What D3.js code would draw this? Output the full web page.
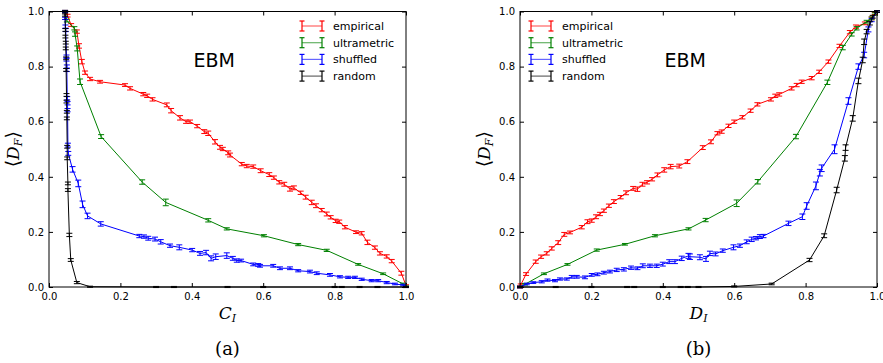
<!DOCTYPE html>
<meta charset="utf-8">
<head>
<style>
  body { margin: 0; background: #fff; }
  .tick text { font: 10px "DejaVu Sans", sans-serif; fill: #000; }
  .legend text { font: 11px "DejaVu Sans", sans-serif; }
  .title { font: 19px "DejaVu Sans", sans-serif; }
  .lab { font: italic 17px "DejaVu Serif", serif; }
  .cap { font: 18px "DejaVu Serif", serif; }
</style>
</head>
<body>
<script src="https://cdnjs.cloudflare.com/ajax/libs/d3/7.8.5/d3.min.js"></script>
<script>

const seriesNames = ["empirical", "ultrametric", "shuffled", "random"];
const seriesColors = ["#ff0000", "#008000", "#0000ff", "#000000"];
const xTicks = [0, 0.2, 0.4, 0.6, 0.8, 1.0];
const yTicks = [0, 0.2, 0.4, 0.6, 0.8, 1.0];

// panel (a): x = C_I, points [x, y, err]
const aEmpirical = [[0.045,1.0,0.004],[0.052,0.985,0.005],[0.062,0.951,0.005],[0.078,0.927,0.006],[0.084,0.875,0.008],[0.092,0.818,0.008],
  [0.101,0.778,0.006],[0.115,0.755,0.006],[0.143,0.745,0.005],[0.213,0.733,0.005],[0.227,0.721,0.006],[0.264,0.700,0.006],[0.275,0.694,0.006],
  [0.290,0.681,0.006],[0.330,0.661,0.007],[0.342,0.640,0.008],[0.367,0.614,0.008],[0.384,0.600,0.006],[0.395,0.600,0.006],[0.415,0.584,0.006],
  [0.435,0.564,0.007],[0.446,0.558,0.008],[0.465,0.527,0.008],[0.479,0.507,0.007],[0.487,0.501,0.006],[0.502,0.487,0.007],[0.507,0.479,0.007],
  [0.540,0.446,0.006],[0.554,0.439,0.006],[0.572,0.437,0.006],[0.593,0.422,0.007],[0.617,0.408,0.007],[0.630,0.397,0.006],[0.645,0.380,0.006],
  [0.659,0.373,0.007],[0.675,0.356,0.008],[0.686,0.360,0.007],[0.705,0.342,0.006],[0.719,0.326,0.007],[0.736,0.307,0.008],[0.748,0.295,0.007],
  [0.764,0.279,0.006],[0.778,0.265,0.007],[0.789,0.253,0.006],[0.803,0.240,0.006],[0.813,0.237,0.006],[0.829,0.217,0.006],[0.860,0.199,0.005],
  [0.876,0.195,0.006],[0.892,0.162,0.008],[0.913,0.143,0.006],[0.927,0.122,0.006],[0.946,0.111,0.006],[0.960,0.094,0.006],[0.987,0.050,0.007],[1.0,0.005,0.003]];
const aUltrametric = [[0.045,1.0,0.004],[0.050,0.967,0.005],[0.071,0.939,0.006],[0.073,0.918,0.008],[0.079,0.866,0.009],[0.087,0.745,0.010],
  [0.146,0.546,0.007],[0.261,0.381,0.008],[0.327,0.307,0.012],[0.446,0.242,0.006],[0.498,0.211,0.004],[0.602,0.186,0.004],[0.698,0.154,0.004],
  [0.778,0.133,0.004],[0.866,0.082,0.003],[0.936,0.048,0.003],[0.992,0.011,0.003],[1.0,0.002,0.002]];
const aShuffled = [[0.045,1.0,0.004],[0.045,0.975,0.004],[0.046,0.945,0.006],[0.047,0.933,0.006],[0.049,0.836,0.006],[0.049,0.826,0.006],
  [0.050,0.800,0.006],[0.050,0.788,0.006],[0.051,0.685,0.006],[0.052,0.667,0.006],[0.052,0.642,0.006],[0.053,0.515,0.007],[0.054,0.485,0.007],
  [0.066,0.427,0.010],[0.082,0.376,0.012],[0.094,0.300,0.012],[0.108,0.258,0.010],[0.145,0.229,0.008],[0.253,0.185,0.006],[0.266,0.183,0.006],
  [0.278,0.177,0.007],[0.297,0.174,0.007],[0.313,0.164,0.008],[0.339,0.150,0.006],[0.365,0.144,0.009],[0.401,0.134,0.006],[0.423,0.122,0.007],
  [0.440,0.125,0.008],[0.454,0.104,0.009],[0.467,0.110,0.010],[0.498,0.114,0.010],[0.515,0.104,0.007],[0.526,0.096,0.006],[0.538,0.096,0.005],
  [0.572,0.082,0.005],[0.586,0.080,0.005],[0.591,0.077,0.005],[0.628,0.077,0.005],[0.647,0.068,0.005],[0.675,0.068,0.005],[0.698,0.059,0.004],
  [0.731,0.056,0.005],[0.750,0.050,0.005],[0.787,0.044,0.005],[0.815,0.037,0.004],[0.838,0.035,0.004],[0.857,0.035,0.004],[0.876,0.028,0.004],
  [0.904,0.023,0.004],[0.922,0.023,0.004],[0.946,0.016,0.004],[0.969,0.011,0.003],[0.992,0.007,0.003],[1.0,0.0,0.002]];
const aRandom = [[0.045,0.999,0.004],[0.045,0.987,0.004],[0.046,0.933,0.005],[0.046,0.909,0.005],[0.047,0.887,0.005],[0.047,0.866,0.005],
  [0.048,0.830,0.005],[0.048,0.788,0.005],[0.049,0.697,0.005],[0.049,0.673,0.005],[0.050,0.636,0.005],[0.050,0.612,0.005],[0.051,0.509,0.005],
  [0.051,0.467,0.005],[0.053,0.376,0.005],[0.053,0.352,0.005],[0.057,0.189,0.006],[0.061,0.098,0.005],[0.078,0.016,0.004],[0.115,0.001,0.002],
  [0.30,0.0,0.002],[0.35,0.0,0.002],[0.50,0.0,0.002],[0.60,0.0,0.002],[0.80,0.0,0.002],[0.82,0.0,0.002],[0.87,0.0,0.002],[0.92,0.0,0.002],[1.0,0.0,0.002]];

// panel (b): x = D_I
const bEmpirical = [[0.0,0.0,0.004],[0.002,0.007,0.004],[0.017,0.047,0.005],[0.044,0.092,0.006],[0.059,0.110,0.006],[0.075,0.122,0.006],
  [0.089,0.140,0.006],[0.107,0.161,0.007],[0.124,0.191,0.007],[0.140,0.198,0.005],[0.173,0.217,0.006],[0.189,0.237,0.007],[0.201,0.241,0.006],
  [0.213,0.255,0.007],[0.224,0.265,0.006],[0.235,0.277,0.006],[0.249,0.295,0.006],[0.263,0.310,0.007],[0.282,0.326,0.006],[0.297,0.342,0.007],
  [0.317,0.358,0.007],[0.329,0.355,0.008],[0.343,0.373,0.007],[0.356,0.380,0.006],[0.370,0.391,0.006],[0.385,0.407,0.007],[0.404,0.425,0.008],
  [0.422,0.437,0.008],[0.446,0.439,0.007],[0.469,0.455,0.007],[0.512,0.506,0.007],[0.535,0.527,0.007],[0.553,0.558,0.006],[0.565,0.564,0.006],
  [0.584,0.585,0.006],[0.600,0.600,0.006],[0.623,0.616,0.006],[0.646,0.640,0.006],[0.665,0.663,0.006],[0.703,0.681,0.006],[0.715,0.694,0.006],
  [0.726,0.699,0.006],[0.761,0.721,0.006],[0.775,0.733,0.006],[0.789,0.745,0.006],[0.817,0.758,0.006],[0.838,0.781,0.006],[0.864,0.818,0.006],
  [0.895,0.875,0.006],[0.924,0.925,0.006],[0.941,0.945,0.006],[0.966,0.957,0.005],[0.985,0.975,0.005],[0.994,0.993,0.004],[1.0,1.0,0.003]];
const bUltrametric = [[0.0,0.0,0.003],[0.014,0.010,0.003],[0.067,0.048,0.003],[0.133,0.082,0.003],[0.215,0.134,0.004],[0.294,0.155,0.003],
  [0.378,0.186,0.004],[0.472,0.211,0.004],[0.520,0.243,0.006],[0.607,0.304,0.012],[0.666,0.382,0.008],[0.773,0.546,0.008],[0.861,0.743,0.008],
  [0.904,0.869,0.008],[0.929,0.917,0.006],[0.943,0.939,0.006],[0.971,0.963,0.005],[0.985,0.975,0.005],[0.994,0.991,0.004],[1.0,1.0,0.003]];
const bShuffled = [[0.0,0.0,0.003],[0.019,0.011,0.003],[0.037,0.016,0.003],[0.061,0.019,0.004],[0.077,0.025,0.004],[0.098,0.023,0.004],
  [0.112,0.029,0.004],[0.131,0.029,0.004],[0.145,0.037,0.005],[0.159,0.037,0.005],[0.182,0.035,0.005],[0.201,0.044,0.005],[0.217,0.046,0.005],
  [0.235,0.052,0.005],[0.252,0.056,0.005],[0.271,0.062,0.006],[0.291,0.064,0.006],[0.311,0.070,0.006],[0.329,0.068,0.005],[0.344,0.077,0.007],
  [0.364,0.077,0.006],[0.383,0.077,0.006],[0.400,0.083,0.007],[0.418,0.092,0.007],[0.434,0.092,0.007],[0.453,0.104,0.008],[0.472,0.113,0.009],
  [0.476,0.110,0.010],[0.504,0.108,0.009],[0.521,0.102,0.009],[0.532,0.122,0.008],[0.548,0.120,0.007],[0.568,0.132,0.006],[0.598,0.144,0.009],
  [0.616,0.150,0.006],[0.635,0.164,0.007],[0.649,0.173,0.008],[0.661,0.177,0.006],[0.672,0.183,0.007],[0.682,0.185,0.006],[0.752,0.231,0.008],
  [0.791,0.255,0.010],[0.803,0.294,0.012],[0.829,0.367,0.014],[0.840,0.415,0.012],[0.845,0.431,0.012],[0.881,0.500,0.016],[0.920,0.675,0.012],
  [0.948,0.800,0.010],[0.964,0.842,0.010],[0.976,0.935,0.009],[0.985,0.969,0.006],[1.0,1.0,0.003]];
const bRandom = [[0.0,0.0,0.002],[0.10,0.0,0.002],[0.20,0.0,0.002],[0.30,0.0,0.002],[0.32,0.0,0.002],[0.40,0.0,0.002],[0.45,0.0,0.002],
  [0.47,0.0,0.002],[0.50,0.0,0.002],[0.60,0.002,0.002],[0.705,0.011,0.003],[0.811,0.098,0.006],[0.852,0.186,0.007],[0.887,0.352,0.010],
  [0.910,0.467,0.010],[0.912,0.506,0.010],[0.932,0.612,0.010],[0.948,0.748,0.010],[0.960,0.824,0.010],[0.964,0.890,0.010],[0.971,0.927,0.008],
  [0.980,0.957,0.006],[0.988,0.981,0.005],[1.0,1.0,0.003]];

const panels = [
  {left: 49, series: [aEmpirical, aUltrametric, aShuffled, aRandom], xlabel: "C", caption: "(a)", legendX: 302},
  {left: 520, series: [bEmpirical, bUltrametric, bShuffled, bRandom], xlabel: "D", caption: "(b)", legendX: 531}
];

const W = 883, H = 363;
const plotW = 357, plotTop = 11.5, plotBottom = 287;

const svg = d3.select("body").append("svg")
  .attr("width", W).attr("height", H);

panels.forEach(p => {
  const x = d3.scaleLinear().domain([0, 1]).range([p.left, p.left + plotW]);
  const y = d3.scaleLinear().domain([0, 1]).range([plotBottom, plotTop]);
  const g = svg.append("g");

  // axes, ticks pointing in on every side
  g.append("g").attr("transform", `translate(0,${plotBottom})`)
    .call(d3.axisBottom(x).tickValues(xTicks).tickFormat(d3.format(".1f")).tickSizeInner(-4).tickSizeOuter(0).tickPadding(6));
  g.append("g").attr("transform", `translate(0,${plotTop})`)
    .call(d3.axisTop(x).tickValues(xTicks).tickFormat("").tickSizeInner(-4).tickSizeOuter(0));
  g.append("g").attr("transform", `translate(${p.left},0)`)
    .call(d3.axisLeft(y).tickValues(yTicks).tickFormat(d3.format(".1f")).tickSizeInner(-4).tickSizeOuter(0).tickPadding(5));
  g.append("g").attr("transform", `translate(${p.left + plotW},0)`)
    .call(d3.axisRight(y).tickValues(yTicks).tickFormat("").tickSizeInner(-4).tickSizeOuter(0));
  g.selectAll(".domain").remove();
  g.selectAll(".tick line").attr("stroke", "#000");

  const line = d3.line().x(d => x(d[0])).y(d => y(d[1]));

  p.series.forEach((data, i) => {
    const c = seriesColors[i];
    g.append("path").datum(data)
      .attr("fill", "none").attr("stroke", c).attr("stroke-width", 1).attr("d", line);
    const eb = g.append("g").attr("stroke", c).attr("stroke-width", 1);
    data.forEach(d => {
      const px = x(d[0]), y0 = y(d[1] - d[2]), y1 = y(d[1] + d[2]);
      eb.append("line").attr("x1", px).attr("x2", px).attr("y1", y0).attr("y2", y1);
      eb.append("line").attr("x1", px - 3).attr("x2", px + 3).attr("y1", y0).attr("y2", y0);
      eb.append("line").attr("x1", px - 3).attr("x2", px + 3).attr("y1", y1).attr("y2", y1);
    });
  });

  // frame
  g.append("rect").attr("x", p.left).attr("y", plotTop).attr("width", plotW).attr("height", plotBottom - plotTop)
    .attr("fill", "none").attr("stroke", "#000").attr("stroke-width", 1);

  g.append("text").attr("class", "title").attr("x", x(0.405)).attr("y", 67).text("EBM");

  // legend
  const lg = g.append("g").attr("class", "legend");
  seriesNames.forEach((name, i) => {
    const ly = 26 + i * 16.7;
    const row = lg.append("g").attr("stroke", seriesColors[i]).attr("stroke-width", 1.2);
    row.append("line").attr("x1", p.legendX).attr("x2", p.legendX + 20).attr("y1", ly).attr("y2", ly).attr("opacity", 0.6);
    row.append("line").attr("x1", p.legendX).attr("x2", p.legendX).attr("y1", ly - 5).attr("y2", ly + 5);
    row.append("line").attr("x1", p.legendX + 20).attr("x2", p.legendX + 20).attr("y1", ly - 5).attr("y2", ly + 5);
    row.append("line").attr("x1", p.legendX - 2.5).attr("x2", p.legendX + 2.5).attr("y1", ly - 5).attr("y2", ly - 5);
    row.append("line").attr("x1", p.legendX - 2.5).attr("x2", p.legendX + 2.5).attr("y1", ly + 5).attr("y2", ly + 5);
    row.append("line").attr("x1", p.legendX + 17.5).attr("x2", p.legendX + 22.5).attr("y1", ly - 5).attr("y2", ly - 5);
    row.append("line").attr("x1", p.legendX + 17.5).attr("x2", p.legendX + 22.5).attr("y1", ly + 5).attr("y2", ly + 5);
    lg.append("text").attr("x", p.legendX + 31).attr("y", ly + 4).text(name);
  });

  // axis labels
  const yl = g.append("text").attr("class", "lab")
    .attr("transform", `translate(${p.left - 30},${(plotTop + plotBottom) / 2}) rotate(-90)`)
    .attr("text-anchor", "middle");
  yl.append("tspan").attr("font-style", "normal").attr("font-size", "19px").text("\u27E8");
  yl.append("tspan").text("D");
  yl.append("tspan").attr("font-size", "11px").attr("dy", 3).text("F");
  yl.append("tspan").attr("font-style", "normal").attr("font-size", "19px").attr("dy", -3).text("\u27E9");

  const xl = g.append("text").attr("class", "lab")
    .attr("x", x(0.5)).attr("y", 319).attr("text-anchor", "middle");
  xl.append("tspan").text(p.xlabel);
  xl.append("tspan").attr("font-size", "11px").attr("dy", 3).text("I");

  g.append("text").attr("class", "cap").attr("x", x(0.5)).attr("y", 355)
    .attr("text-anchor", "middle").text(p.caption);
});

</script>
</body>
